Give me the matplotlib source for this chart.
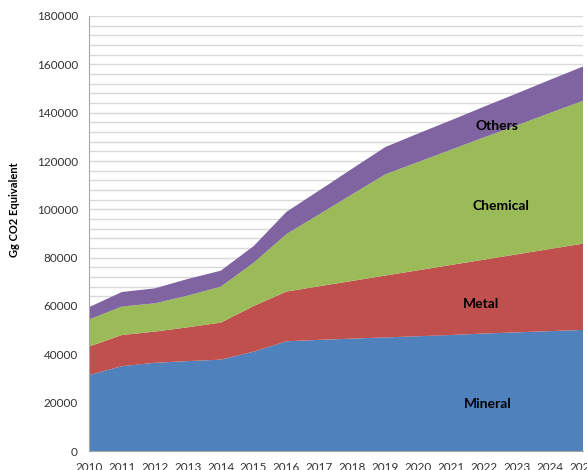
import numpy as np
import matplotlib.pyplot as plt
from matplotlib.ticker import MultipleLocator

years = np.arange(2010, 2026)
mineral = [31400, 35100, 36500, 37200, 37800, 41100, 45400, 46000,
           46500, 47000, 47500, 48000, 48600, 49100, 49600, 50100]
metal = [11800, 12900, 12900, 14000, 15300, 18900, 20600, 22200,
         23900, 25600, 27300, 29000, 30600, 32300, 34000, 35700]
chemical = [11200, 11800, 11700, 13100, 14900, 17900, 23800, 29800,
            35900, 41900, 44800, 47700, 50600, 53400, 56300, 59100]
others = [5100, 6000, 6200, 6900, 6600, 6900, 9200, 9900,
          10600, 11300, 11800, 12200, 12700, 13200, 13700, 14200]

names = ['Mineral', 'Metal', 'Chemical', 'Others']
colors = ['#4F81BD', '#C0504D', '#9BBB59', '#8064A2']
# label spots (year, value)
label_x = [2022.1, 2021.9, 2022.5, 2022.4]
label_y = [19300, 60700, 101300, 134400]

plt.rcParams['font.family'] = ['Lato', 'DejaVu Sans']

fig = plt.figure(figsize=(5.87, 4.70), dpi=100)
ax = fig.add_axes([89/587, 1-451/470, (583-89)/587, (451-16)/470])

ax.stackplot(years, mineral, metal, chemical, others, colors=colors,
             linewidth=0, zorder=2)

for i in range(len(names)):
    ax.text(label_x[i], label_y[i], names[i], ha='center', va='center',
            fontsize=10, fontweight='bold', color='black', zorder=3)

ax.set_xlim(2010, 2025)
ax.set_ylim(0, 180000)
ax.set_xticks(years)
ax.set_xticklabels([str(y) for y in years])
ax.yaxis.set_major_locator(MultipleLocator(20000))
ax.yaxis.set_minor_locator(MultipleLocator(4000))
ax.grid(axis='y', which='both', color='#D9D9D9', linewidth=1, zorder=0)
ax.set_axisbelow(True)

ax.tick_params(axis='both', which='both', length=0, labelsize=8.5, colors='#333333')
ax.tick_params(axis='y', pad=8)
ax.tick_params(axis='x', pad=8)

for s in ['top', 'right']:
    ax.spines[s].set_visible(False)
ax.spines['left'].set_color('#A6A6A6')
ax.spines['bottom'].set_color('#A6A6A6')

fig.text(15/587, 1-210/470, 'Gg CO2 Equivalent', rotation=90, ha='center',
         va='center', fontsize=8, fontweight='bold')

fig.savefig('out.png', dpi=100)
